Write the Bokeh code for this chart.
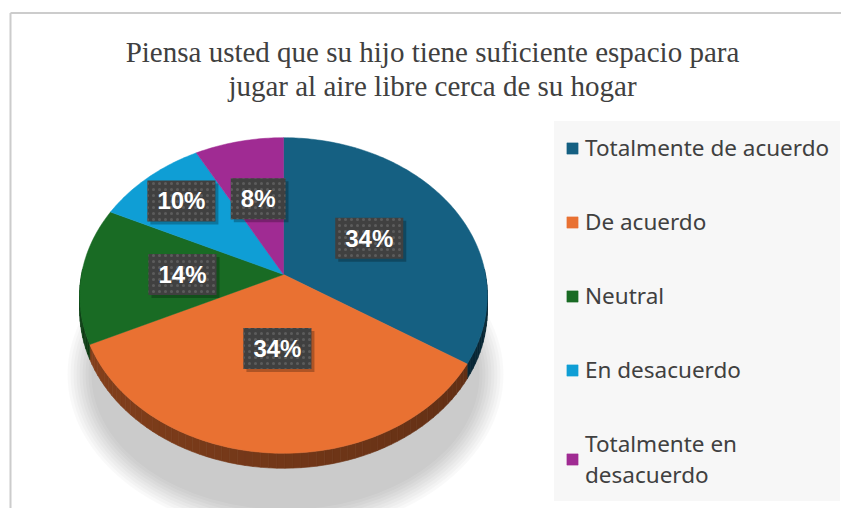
import math
from bokeh.plotting import figure
from bokeh.models import Legend, LegendItem, Range1d, ColumnDataSource
from bokeh.core.properties import value
from bokeh.embed import file_html
from bokeh.resources import INLINE

# ---------------- data ----------------
title_lines = ["Piensa usted que su hijo tiene suficiente espacio para",
               "jugar al aire libre cerca de su hogar"]
categories = ["Totalmente de acuerdo", "De acuerdo", "Neutral",
              "En desacuerdo", "Totalmente en\ndesacuerdo"]
percentages = [34, 34, 14, 10, 8]
colors = ["#156082", "#E97132", "#196B24", "#0F9ED5", "#A02B93"]

# ---------------- geometry / style ----------------
W, H = 841, 508
CX, CY = 283, 234          # pie vertex (pixel-like data space)
R, KR, P = 202, 155, 0.133  # radius, vertical radius, perspective
DEPTH = 15
label_frac = [0.5, 0.45, 0.5, 0.74, 0.54]


def proj(theta, r=1.0, drop=0.0):
    t = math.radians(theta)
    s = 1.0 / (1.0 + P * r * math.cos(t))
    return CX + R * r * math.sin(t) * s, CY + KR * r * math.cos(t) * s - drop


def shade(hexc, f):
    h = hexc.lstrip("#")
    r, g, b = (int(h[i:i + 2], 16) for i in (0, 2, 4))
    return "#%02x%02x%02x" % (int(r * f), int(g * f), int(b * f))


p = figure(width=W, height=H, x_range=Range1d(0, W), y_range=Range1d(0, H),
           output_backend="svg", toolbar_location=None, min_border=0,
           x_axis_type=None, y_axis_type=None)
p.grid.visible = False
p.outline_line_color = None
p.background_fill_color = "white"
p.border_fill_color = "white"

# chart frame (decorative)
p.segment(x0=[10, 10], y0=[-5, 495.5], x1=[10, 850], y1=[495.5, 495.5],
          line_color="#cccccc", line_width=2)

# soft shadow under the pie
for i in range(9):
    p.ellipse(x=[CX + 2], y=[CY - 100], width=[436 - 6 * i], height=[318 - 6 * i],
              fill_color="black", fill_alpha=0.022, line_color=None)

total = float(sum(percentages))
bounds = []
acc = 0.0
for v in percentages:
    a = acc / total * 360.0
    acc += v
    b = acc / total * 360.0
    bounds.append((a, b))

# side walls
sx, sy, sc = [], [], []
for (a, b), col in zip(bounds, colors):
    lo, hi = max(a, 88.0), min(b, 272.0)
    if lo >= hi:
        continue
    n = max(1, int(math.ceil((hi - lo) / 2.0)))
    for k in range(n):
        t0 = lo + (hi - lo) * k / n
        t1 = lo + (hi - lo) * (k + 1) / n
        x0, y0 = proj(t0)
        x1, y1 = proj(t1)
        x2, y2 = proj(t1, drop=DEPTH)
        x3, y3 = proj(t0, drop=DEPTH)
        sx.append([x0, x1, x2, x3])
        sy.append([y0, y1, y2, y3])
        tm = 0.5 * (t0 + t1)
        f = 0.38 + 0.22 * (tm - 90.0) / 180.0
        sc.append(shade(col, f))
p.patches(xs=sx, ys=sy, fill_color=sc, line_color=sc, line_width=0.6)

# top faces
renderers = []
for (a, b), col in zip(bounds, colors):
    n = max(2, int(math.ceil(b - a)))
    xs, ys = [CX], [CY]
    for k in range(n + 1):
        x, y = proj(a + (b - a) * k / n)
        xs.append(x)
        ys.append(y)
    r = p.patch(xs, ys, fill_color=col, line_color=col, line_width=0.5)
    renderers.append(r)

# data labels
lx, ly, lt = [], [], []
for (a, b), v, fr in zip(bounds, percentages, label_frac):
    x, y = proj(0.5 * (a + b), r=fr)
    lx.append(x)
    ly.append(y)
    lt.append("%d%%" % v)
src = ColumnDataSource(dict(x=lx, y=ly, text=lt))
common = dict(x="x", y="y", text="text", source=src,
              text_font=value("Liberation Sans"), text_font_style="bold",
              text_font_size="24px", text_align="center", text_baseline="middle",
              padding=(10, 7))
p.text(text_alpha=0, background_fill_color="black", background_fill_alpha=0.25,
       x_offset=3, y_offset=3, **common)
p.text(text_color="white", background_fill_color="#404040",
       background_hatch_pattern="dot", background_hatch_color="#5c5c5c",
       background_hatch_scale=6, **common)

# title
p.text(x=[432, 432], y=[457, 423], text=title_lines,
       text_font=value("Liberation Serif"), text_font_size="29px",
       text_color="#404040", text_align="center", text_baseline="middle")

# legend
items = [LegendItem(label=c, renderers=[r]) for c, r in zip(categories, renderers)]
legend = Legend(items=items, location=(554, 7), orientation="vertical",
                glyph_width=14, glyph_height=14, label_standoff=6,
                label_text_font="Noto Sans", label_text_font_size="22.5px",
                label_text_color="#404040", spacing=43, padding=10, margin=0,
                background_fill_color="#f7f7f7", background_fill_alpha=1.0,
                border_line_color="#f7f7f7", border_line_width=1)
p.add_layout(legend)

open("out.html", "w").write(file_html(p, INLINE))
